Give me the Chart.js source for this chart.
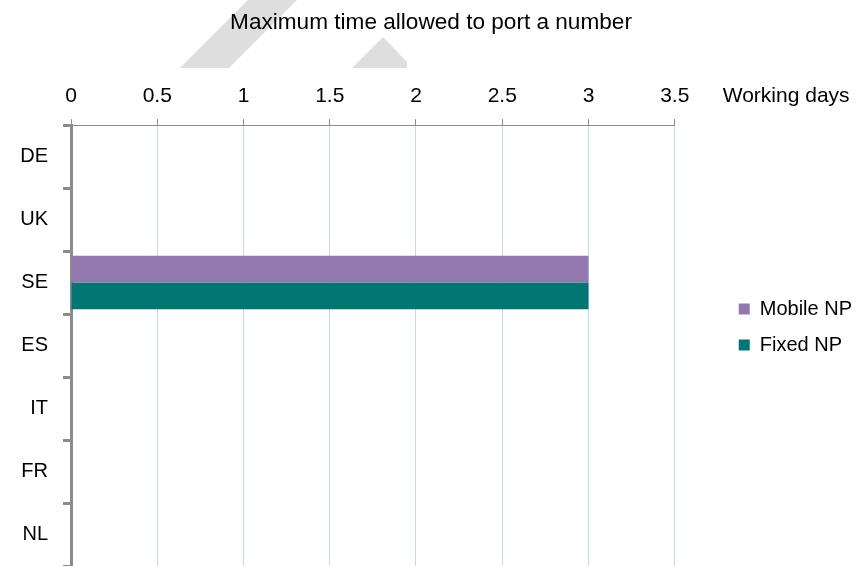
<!DOCTYPE html>
<html lang="en">

<head>
    <meta charset="UTF-8">
    <title>Maximum time allowed to port a number</title>
    <style>
        body { margin: 0; background: #fff; }
        .wrap { width: 856px; height: 566px; }
    </style>
</head>

<body>
    <div class="wrap"><canvas id="myChart"></canvas></div>
    <script src="https://cdn.jsdelivr.net/npm/chart.js@4.4.1/dist/chart.umd.min.js"></script>
    <script>
        const countries = ['DE', 'UK', 'SE', 'ES', 'IT', 'FR', 'NL']
        const mobileNP = [null, null, 3, null, null, null, null]
        const fixedNP = [null, null, 3, null, null, null, null]
        const dayTicks = [0, 0.5, 1, 1.5, 2, 2.5, 3, 3.5]

        const font = 'Liberation Sans, Arial, sans-serif'
        const grey = '#8c8c8c'

        // faint "draft" marks behind the chart + the unit label next to the ticks
        const extras = {
            id: 'extras',
            beforeDraw(chart) {
                const ctx = chart.ctx
                ctx.save()
                ctx.fillStyle = '#dedede'
                ctx.beginPath()
                ctx.moveTo(180, 68); ctx.lineTo(229, 68); ctx.lineTo(297, 0); ctx.lineTo(248, 0)
                ctx.closePath(); ctx.fill()
                ctx.beginPath()
                ctx.moveTo(352, 68); ctx.lineTo(383, 37); ctx.lineTo(407, 62); ctx.lineTo(407, 68)
                ctx.closePath(); ctx.fill()
                ctx.restore()
            },
            afterDraw(chart) {
                const ctx = chart.ctx
                const x = chart.scales.x
                ctx.save()
                ctx.font = '21px ' + font
                ctx.fillStyle = '#000'
                ctx.textAlign = 'left'
                ctx.textBaseline = 'middle'
                ctx.fillText('Working days', x.right + 48, x.bottom - 29)
                ctx.restore()
            }
        }

        const ctx = document.querySelector('#myChart').getContext('2d')
        const chart = new Chart(ctx, {
            type: 'bar',
            data: {
                labels: countries,
                datasets: [{
                    label: 'Mobile NP',
                    backgroundColor: '#9179ad',
                    data: mobileNP
                }, {
                    label: 'Fixed NP',
                    backgroundColor: '#007672',
                    data: fixedNP
                }]
            },
            options: {
                indexAxis: 'y',
                responsive: true,
                maintainAspectRatio: false,
                animation: false,
                categoryPercentage: 0.85,
                barPercentage: 1,
                layout: { padding: { left: 0, right: -6, top: 0, bottom: -8 } },
                scales: {
                    x: {
                        position: 'top',
                        min: 0,
                        max: 3.5,
                        afterBuildTicks: s => { s.ticks = dayTicks.map(v => ({ value: v })) },
                        afterFit: s => { s.height = 89 },
                        ticks: {
                            color: '#000',
                            padding: 10,
                            font: { family: font, size: 21 },
                            callback: v => String(v)
                        },
                        grid: { color: '#c6d9f1', tickColor: grey, tickLength: 6, lineWidth: 1 },
                        border: { color: grey, width: 1 }
                    },
                    y: {
                        afterFit: s => { s.width = 71; s.paddingTop = 0; s.paddingBottom = 0 },
                        ticks: {
                            color: '#000',
                            padding: 15,
                            font: { family: font, size: 20 }
                        },
                        grid: { drawOnChartArea: false, color: grey, tickLength: 8, lineWidth: 3 },
                        border: { color: grey, width: 3 }
                    },
                    gap: {
                        type: 'linear',
                        position: 'right',
                        afterFit: s => { s.width = 48 },
                        ticks: { display: false },
                        grid: { display: false },
                        border: { display: false }
                    }
                },
                plugins: {
                    title: {
                        display: true,
                        text: 'Maximum time allowed to port a number',
                        color: '#000',
                        font: { family: font, size: 22.6, weight: 'normal' },
                        padding: { top: 9, bottom: 0 }
                    },
                    legend: {
                        position: 'right',
                        align: 'start',
                        title: {
                            display: true,
                            text: ' ',
                            font: { family: font, size: 20 },
                            padding: { top: 259, bottom: 0 }
                        },
                        labels: {
                            color: '#000',
                            boxWidth: 11,
                            boxHeight: 11,
                            padding: 16,
                            font: { family: font, size: 20 }
                        }
                    },
                    tooltip: { enabled: false }
                }
            },
            plugins: [extras]
        })
    </script>
</body>

</html>
